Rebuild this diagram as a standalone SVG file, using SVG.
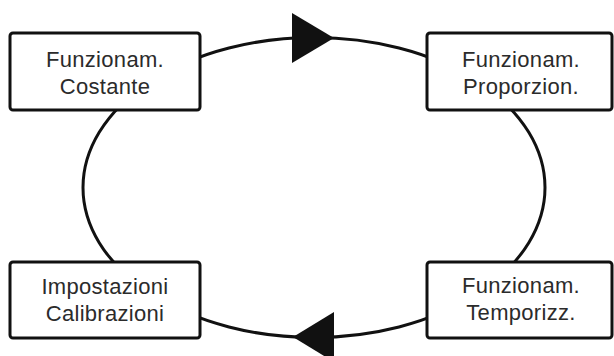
<svg xmlns="http://www.w3.org/2000/svg" width="614" height="356" viewBox="0 0 614 356">
<style>
.box{fill:#fff;stroke:#111;stroke-width:3}
.lbl{font-family:"Liberation Sans",Arial,sans-serif;font-size:22px;fill:#2b2b2b;text-anchor:middle;letter-spacing:0.3px}
.conn{fill:none;stroke:#111;stroke-width:3}
.head{fill:#111}
</style>
<rect width="614" height="356" fill="#fff"/>
<g id="connectors">
<ellipse class="conn" cx="314" cy="187.5" rx="231" ry="150"/>
<polygon class="head" points="292,13 334,38 292,63"/>
<polygon class="head" points="334,312 293,337 334,362"/>
</g>
<g id="node-costante">
<rect class="box" x="10" y="33" width="190" height="77" rx="3"/>
<text class="lbl" x="105" y="67">Funzionam.</text>
<text class="lbl" x="105" y="94">Costante</text>
</g>
<g id="node-proporzion">
<rect class="box" x="427" y="33" width="185" height="77" rx="3"/>
<text class="lbl" x="521" y="67">Funzionam.</text>
<text class="lbl" x="521" y="94">Proporzion.</text>
</g>
<g id="node-impostazioni">
<rect class="box" x="10" y="262" width="190" height="76" rx="3"/>
<text class="lbl" x="105" y="294">Impostazioni</text>
<text class="lbl" x="105" y="321">Calibrazioni</text>
</g>
<g id="node-temporizz">
<rect class="box" x="427" y="262" width="185" height="76" rx="3"/>
<text class="lbl" x="521" y="293">Funzionam.</text>
<text class="lbl" x="521" y="320">Temporizz.</text>
</g>
</svg>
